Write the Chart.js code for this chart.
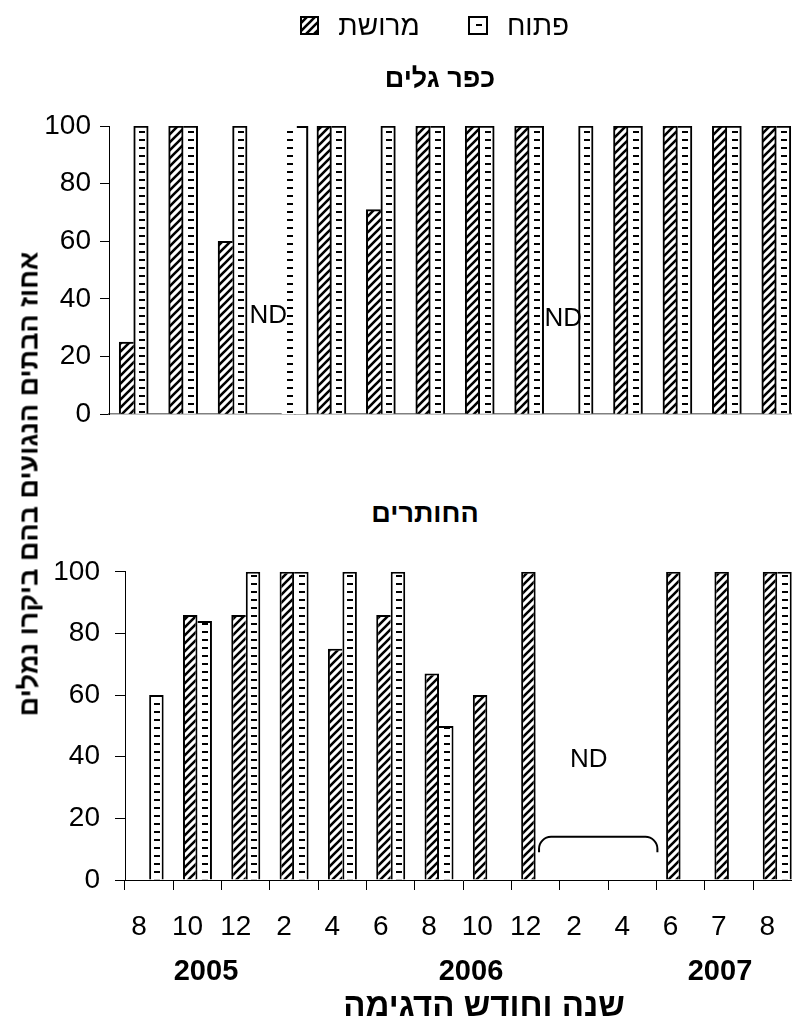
<!DOCTYPE html>
<html><head><meta charset="utf-8">
<script src="https://cdn.jsdelivr.net/npm/chart.js@4.4.0/dist/chart.umd.min.js"></script>
<style>
html,body{margin:0;padding:0;background:#fff;overflow:hidden;}
#wrap{position:relative;width:792px;height:1018px;overflow:hidden;font-family:"Liberation Sans",Arial,"DejaVu Sans",sans-serif;color:#000;background:#fff;}
#wrap canvas.chart{position:absolute;left:0;}
.t{position:absolute;white-space:nowrap;transform:translate(-50%,-50%);line-height:1;}
.b{font-weight:bold;}
.sw{position:absolute;}
</style></head><body><div id="wrap">
<canvas id="topChart" class="chart" width="801" height="440" style="top:0"></canvas>
<canvas id="botChart" class="chart" width="805" height="478" style="top:540px"></canvas>

<canvas id="swHatch" class="sw" width="19" height="19" style="left:300px;top:16px"></canvas>
<div class="t" dir="rtl" style="left:379px;top:26px;font-size:28px">מרושת</div>
<canvas id="swDash" class="sw" width="20" height="19" style="left:468px;top:16px"></canvas>
<div class="t" dir="rtl" style="left:538px;top:26px;font-size:28px">פתוח</div>

<div class="t b" dir="rtl" style="left:440px;top:78px;font-size:27px">כפר גלים</div>
<div class="t b" dir="rtl" style="left:425px;top:513px;font-size:27px">החותרים</div>
<div class="t b" dir="rtl" style="left:29px;top:484px;font-size:27px;transform:translate(-50%,-50%) rotate(-90deg)">אחוז הבתים הנגועים בהם ביקרו נמלים</div>
<div class="t b" style="left:206px;top:970px;font-size:29px">2005</div>
<div class="t b" style="left:471px;top:970px;font-size:29px">2006</div>
<div class="t b" style="left:720px;top:970px;font-size:29px">2007</div>
<div class="t b" dir="rtl" style="left:484px;top:1004px;font-size:33px">שנה וחודש הדגימה</div>
</div>
<script>
// ---- data ----
const months = ['8','10','12','2','4','6','8','10','12','2','4','6','7','8'];
const seriesNames = ['מרושת','פתוח'];
// כפר גלים
const topNetted = [25, 100, 60, null, 100, 71, 100, 100, 100, null, 100, 100, 100, 100];
const topOpen   = [100, 100, 100, 100, 100, 100, 100, 100, 100, 100, 100, 100, 100, 100];
const topBlank  = [{from: 3.24, to: 3.53, value: 100}];
const topND     = [{x: 2.72, y: 34}, {x: 8.69, y: 33}];
// החותרים
const botNetted = [null, 86, 86, 100, 75, 86, 67, 60, 100, null, null, 100, 100, 100];
const botOpen   = [60, 84, 100, 100, 100, 100, 50, null, null, null, null, null, null, 100];
const botND     = [{x: 9.1, y: 39}];
const botBracket = {from: 8.07, to: 10.52, top: 14, end: 9};
const yTicks = [0, 20, 40, 60, 80, 100];

// ---- patterns ----
const FONT = '"Liberation Sans", Arial, "DejaVu Sans", sans-serif';
function hatchTile() {
  const c = document.createElement('canvas'); c.width = 8; c.height = 8;
  const g = c.getContext('2d');
  g.fillStyle = '#fff'; g.fillRect(0, 0, 8, 8);
  g.strokeStyle = '#000'; g.lineWidth = 2.6;
  g.beginPath();
  g.moveTo(-2, 10); g.lineTo(10, -2);
  g.moveTo(-2, 2); g.lineTo(2, -2);
  g.moveTo(6, 10); g.lineTo(10, 6);
  g.stroke();
  return c;
}
function dashTile() {
  const c = document.createElement('canvas'); c.width = 14; c.height = 8;
  const g = c.getContext('2d');
  g.fillStyle = '#fff'; g.fillRect(0, 0, 14, 8);
  g.fillStyle = '#000'; g.fillRect(5, 3, 6, 2);
  return c;
}
const HT = hatchTile(), DT = dashTile();

// dash pattern aligned to each bar's left edge
function dashFill(barWidthOf, dsIndex) {
  return (ctx) => {
    const p = ctx.chart.ctx.createPattern(DT, 'repeat');
    if (ctx.type !== 'data') return p;
    const xs = ctx.chart.scales.x;
    if (!xs || !xs.width) return p;
    const bw = barWidthOf(xs.width / months.length);
    const left = xs.getPixelForValue(ctx.dataIndex) - bw + dsIndex * bw;
    if (isFinite(left)) p.setTransform(new DOMMatrix([1, 0, 0, 1, Math.round(left), 0]));
    return p;
  };
}
function edgeBorders(own, other, isLeftBar, w) {
  return (ctx) => {
    const i = ctx.dataIndex;
    if (i === undefined) return w;
    const a = own[i], b = other[i];
    const keep = (b == null) || (isLeftBar ? a >= b : a > b);
    return isLeftBar ? {top: w, left: w, right: keep ? w : 0, bottom: 0}
                     : {top: w, right: w, left: keep ? w : 0, bottom: 0};
  };
}

// ND labels, bracket and blank (white) bar, all placed through the chart scales
const ndPlugin = {
  id: 'nd',
  beforeDatasetsDraw(chart, args, opts) {
    const {ctx} = chart; const x = chart.scales.x, y = chart.scales.y;
    ctx.save();
    (opts.blanks || []).forEach(b => {
      const x1 = x.getPixelForValue(b.from), x2 = x.getPixelForValue(b.to);
      const yt = y.getPixelForValue(b.value), y0 = y.getPixelForValue(0);
      ctx.fillStyle = '#000'; ctx.fillRect(x1, yt, x2 - x1, y0 - yt);
      ctx.fillStyle = '#fff'; ctx.fillRect(x1 + 2, yt + 2, x2 - x1 - 4, y0 - yt - 2);
    });
    ctx.restore();
  },
  afterDatasetsDraw(chart, args, opts) {
    const {ctx} = chart; const x = chart.scales.x, y = chart.scales.y;
    ctx.save();
    ctx.fillStyle = '#000'; ctx.strokeStyle = '#000';
    ctx.font = '26px ' + FONT; ctx.textAlign = 'center'; ctx.textBaseline = 'middle';
    (opts.labels || []).forEach(n => ctx.fillText('ND', x.getPixelForValue(n.x), y.getPixelForValue(n.y)));
    const b = opts.bracket;
    if (b) {
      const x1 = x.getPixelForValue(b.from), x2 = x.getPixelForValue(b.to);
      const yt = y.getPixelForValue(b.top), ye = y.getPixelForValue(b.end);
      const r = 12;
      ctx.lineWidth = 2;
      ctx.beginPath();
      ctx.moveTo(x1, ye);
      ctx.arcTo(x1, yt, x1 + r, yt, r);
      ctx.lineTo(x2 - r, yt);
      ctx.arcTo(x2, yt, x2, ye, r);
      ctx.lineTo(x2, ye);
      ctx.stroke();
    }
    ctx.restore();
  }
};

function yAxis(width, tickLen, pad) {
  return {
    min: 0, max: 100,
    afterBuildTicks: (s) => { s.ticks = yTicks.map(v => ({value: v})); },
    afterFit: (s) => { s.width = width; },
    ticks: {color: '#000', font: {family: FONT, size: 28}, padding: pad},
    grid: {drawOnChartArea: false, drawTicks: true, tickLength: tickLen, color: '#000', lineWidth: 1},
    border: {display: true, color: '#000', width: 1}
  };
}

// ---- top chart ----
const TOP_BAR = 14.5;
const topCtx = document.getElementById('topChart').getContext('2d');
new Chart(topCtx, {
  type: 'bar',
  data: {
    labels: months,
    datasets: [
      {label: seriesNames[0], data: topNetted, barThickness: TOP_BAR,
       backgroundColor: topCtx.createPattern(HT, 'repeat'), borderColor: '#000',
       borderWidth: edgeBorders(topNetted, topOpen, true, 2)},
      {label: seriesNames[1], data: topOpen, barThickness: TOP_BAR,
       backgroundColor: dashFill(() => TOP_BAR, 1), borderColor: '#000',
       borderWidth: (ctx) => ctx.dataIndex === 3 ? 0 : edgeBorders(topOpen, topNetted, false, 2)(ctx)}
    ]
  },
  options: {
    responsive: false, animation: false, events: [],
    datasets: {bar: {categoryPercentage: 0.59, barPercentage: 1}},
    layout: {padding: {top: 126, left: 0, right: 0, bottom: 0}},
    plugins: {legend: {display: false}, title: {display: false}, tooltip: {enabled: false},
              nd: {labels: topND, blanks: topBlank}},
    scales: {
      x: {type: 'category', ticks: {display: false}, grid: {display: false},
          border: {display: true, color: '#808080', width: 1.5},
          afterFit: (s) => { s.height = 2; }},
      y: yAxis(109, 9, 9)
    }
  },
  plugins: [ndPlugin]
});

// ---- bottom chart ----
const BOT_CAT = 0.6;
const botCtx = document.getElementById('botChart').getContext('2d');
new Chart(botCtx, {
  type: 'bar',
  data: {
    labels: months,
    datasets: [
      {label: seriesNames[0], data: botNetted,
       backgroundColor: botCtx.createPattern(HT, 'repeat'), borderColor: '#000',
       borderWidth: edgeBorders(botNetted, botOpen, true, 2)},
      {label: seriesNames[1], data: botOpen,
       backgroundColor: dashFill((cw) => cw * BOT_CAT / 2, 1), borderColor: '#000',
       borderWidth: edgeBorders(botOpen, botNetted, false, 2)}
    ]
  },
  options: {
    responsive: false, animation: false, events: [],
    datasets: {bar: {categoryPercentage: BOT_CAT, barPercentage: 1}},
    layout: {padding: {top: 30, left: 0, right: 0, bottom: 0}},
    plugins: {legend: {display: false}, title: {display: false}, tooltip: {enabled: false},
              nd: {labels: botND, bracket: botBracket}},
    scales: {
      x: {type: 'category',
          ticks: {color: '#000', font: {family: FONT, size: 28}, padding: 20, labelOffset: -10, maxRotation: 0, autoSkip: false},
          grid: {drawOnChartArea: false, drawTicks: true, tickLength: 10, color: '#000', offset: true},
          border: {display: true, color: '#000', width: 1},
          afterFit: (s) => { s.height = 138; }},
      y: yAxis(125, 10, 15)
    }
  },
  plugins: [ndPlugin]
});

// ---- legend swatches ----
(function () {
  const h = document.getElementById('swHatch').getContext('2d');
  h.fillStyle = h.createPattern(HT, 'repeat'); h.fillRect(0, 0, 19, 19);
  h.strokeStyle = '#000'; h.lineWidth = 2; h.strokeRect(1, 1, 17, 17);
  const d = document.getElementById('swDash').getContext('2d');
  d.fillStyle = '#fff'; d.fillRect(0, 0, 20, 19);
  d.fillStyle = '#000'; d.fillRect(8, 8, 6, 2);
  d.strokeStyle = '#000'; d.lineWidth = 2; d.strokeRect(1, 1, 18, 17);
})();
</script>
</body></html>
